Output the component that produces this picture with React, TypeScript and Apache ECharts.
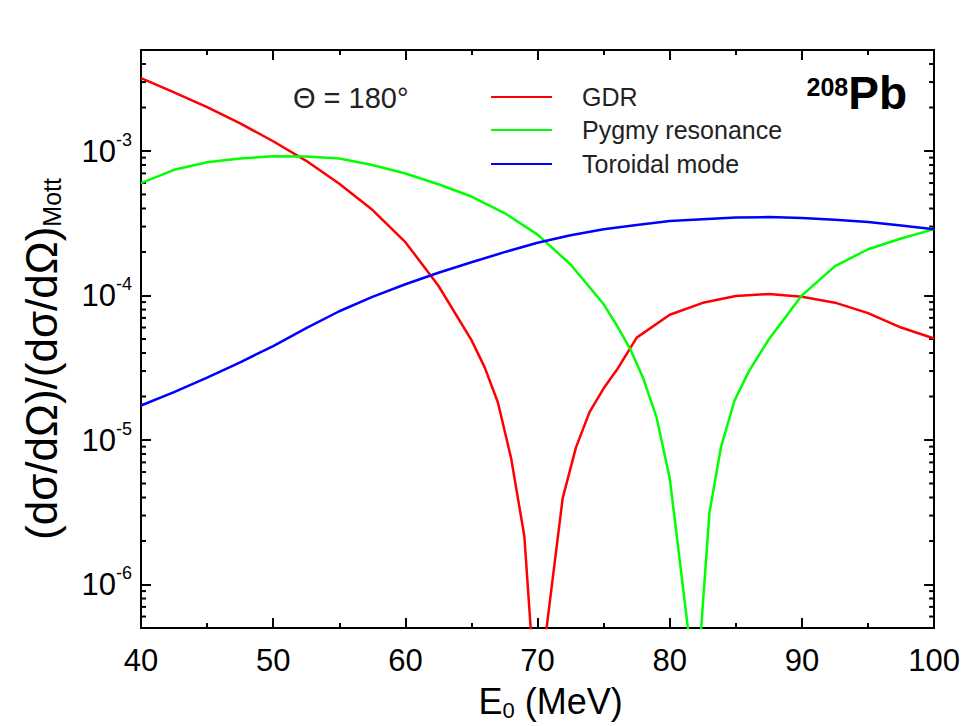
import React, { useEffect, useRef } from 'react';
import * as echarts from 'echarts';

const FONT = '"Liberation Sans", Arial, Helvetica, sans-serif';

// GDR (red)
const gdrEnergy = [40.0, 42.5, 45.0, 47.5, 50.0, 52.5, 55.0, 57.5, 60.0, 62.5, 65.0, 66.0, 67.0, 68.0, 69.0, 69.55, 70.55, 71.9, 72.9, 73.93, 75.0, 76.0, 77.5, 80.0, 82.5, 85.0, 87.5, 90.0, 92.5, 95.0, 97.5, 100.0];
const gdrValues = [3.19e-3, 2.548e-3, 2.011e-3, 1.552e-3, 1.168e-3, 8.55e-4, 5.93e-4, 3.92e-4, 2.34e-4, 1.168e-4, 4.91e-5, 3.18e-5, 1.817e-5, 7.47e-6, 2.16e-6, 4e-7, 4e-7, 3.96e-6, 8.86e-6, 1.559e-5, 2.28e-5, 3.06e-5, 5.11e-5, 7.36e-5, 8.9e-5, 9.91e-5, 1.024e-4, 9.81e-5, 8.92e-5, 7.55e-5, 6.0e-5, 5.04e-5];

// Pygmy resonance (green)
const pygmyEnergy = [40.0, 42.5, 45.0, 47.5, 50.0, 52.5, 55.0, 57.5, 60.0, 62.5, 65.0, 67.5, 70.0, 72.5, 75.0, 76.0, 77.0, 78.0, 79.0, 80.0, 80.5, 81.5, 82.3, 83.0, 83.88, 84.9, 86.0, 87.5, 90.0, 92.5, 95.0, 97.5, 100.0];
const pygmyValues = [6.0e-4, 7.41e-4, 8.35e-4, 8.88e-4, 9.2e-4, 9.17e-4, 8.87e-4, 8.01e-4, 6.98e-4, 5.89e-4, 4.84e-4, 3.72e-4, 2.64e-4, 1.64e-4, 8.69e-5, 6.2e-5, 4.28e-5, 2.66e-5, 1.436e-5, 5.41e-6, 2.28e-6, 4e-7, 4e-7, 3.13e-6, 8.97e-6, 1.876e-5, 3.01e-5, 4.98e-5, 1.003e-4, 1.596e-4, 2.09e-4, 2.48e-4, 2.88e-4];

// Toroidal mode (blue)
const toroidalEnergy = [40.0, 42.5, 45.0, 47.5, 50.0, 52.5, 55.0, 57.5, 60.0, 62.5, 65.0, 67.5, 70.0, 72.5, 75.0, 77.5, 80.0, 82.5, 85.0, 87.5, 90.0, 92.5, 95.0, 97.5, 100.0];
const toroidalValues = [1.733e-5, 2.146e-5, 2.7e-5, 3.45e-5, 4.47e-5, 5.94e-5, 7.78e-5, 9.78e-5, 1.197e-4, 1.436e-4, 1.698e-4, 1.995e-4, 2.318e-4, 2.615e-4, 2.87e-4, 3.08e-4, 3.28e-4, 3.37e-4, 3.46e-4, 3.49e-4, 3.44e-4, 3.35e-4, 3.22e-4, 3.05e-4, 2.87e-4];

const seriesNames = ['GDR', 'Pygmy resonance', 'Toroidal mode'];
const seriesColors = ['#ff0000', '#00ff00', '#0000ff'];

const xMin = 40;
const xMax = 100;
const xInterval = 10;
const yMin = 5e-7;
const yMax = 5e-3;

// logarithmic minor ticks (2..9 x 10^n) inside the y range
const minorYTicks: number[] = [];
for (let e = -7; e <= -3; e++) {
  for (let m = 2; m <= 9; m++) {
    const v = m * Math.pow(10, e);
    if (v > yMin * 1.0001 && v < yMax * 0.9999) minorYTicks.push(v);
  }
}

const pair = (xs: number[], ys: number[]) => xs.map((x, i) => [x, ys[i]]);

const tickStyle = () => ({ show: true, inside: true, length: 10, lineStyle: { color: '#000', width: 2 } });
const minorTickStyle = () => ({ show: true, splitNumber: 2, length: 5, lineStyle: { color: '#000', width: 2 } });
const lineStyleAxis = () => ({ show: true, onZero: false, lineStyle: { color: '#000', width: 2 } });

export default function App() {
  const ref = useRef<HTMLDivElement>(null);
  useEffect(() => {
    if (!ref.current) return;
    const chart = echarts.init(ref.current, null, { renderer: 'svg' });
    const lineSeries = [
      pair(gdrEnergy, gdrValues),
      pair(pygmyEnergy, pygmyValues),
      pair(toroidalEnergy, toroidalValues),
    ].map((data, i) => ({
      name: seriesNames[i],
      type: 'line',
      data,
      showSymbol: true,
      symbol: 'circle',
      symbolSize: 1,
      smooth: false,
      lineStyle: { color: seriesColors[i], width: 2.5 },
      itemStyle: { color: seriesColors[i], opacity: 0 },
    }));

    // legend drawn as plain graphic elements (line sample + label)
    const legendRows = [97, 130, 164];
    const legendEls: any[] = [];
    seriesNames.forEach((name, i) => {
      legendEls.push({
        type: 'line',
        shape: { x1: 491, y1: legendRows[i], x2: 552, y2: legendRows[i] },
        style: { stroke: seriesColors[i], lineWidth: 2.2 },
      });
      legendEls.push({
        type: 'text',
        x: 582,
        y: legendRows[i],
        style: { text: name, fontSize: 25, fontFamily: FONT, fill: '#222', align: 'left', verticalAlign: 'middle' },
      });
    });

    chart.setOption({
      animation: false,
      textStyle: { fontFamily: FONT },
      grid: { left: 141, right: 28, top: 50, bottom: 94 },
      xAxis: [
        {
          type: 'value',
          min: xMin,
          max: xMax,
          interval: xInterval,
          position: 'bottom',
          axisLine: lineStyleAxis(),
          axisTick: tickStyle(),
          minorTick: minorTickStyle(),
          splitLine: { show: false },
          axisLabel: { show: true, fontSize: 31, color: '#000', margin: 17, fontFamily: FONT },
          name: '{a|E}{b|0}{a| (MeV)}',
          nameLocation: 'middle',
          nameGap: 53,
          nameTextStyle: {
            color: '#000',
            fontFamily: FONT,
            padding: [0, 0, 0, 26],
            rich: {
              a: { fontSize: 36, lineHeight: 40, color: '#000', fontFamily: FONT },
              b: { fontSize: 22, lineHeight: 22, verticalAlign: 'bottom', color: '#000', fontFamily: FONT },
            },
          },
        },
        {
          type: 'value',
          min: xMin,
          max: xMax,
          interval: xInterval,
          position: 'top',
          axisLine: lineStyleAxis(),
          axisTick: tickStyle(),
          minorTick: minorTickStyle(),
          splitLine: { show: false },
          axisLabel: { show: false },
        },
      ],
      yAxis: [
        {
          type: 'log',
          logBase: 10,
          min: yMin,
          max: yMax,
          position: 'left',
          axisLine: lineStyleAxis(),
          axisTick: tickStyle(),
          splitLine: { show: false },
          axisLabel: {
            show: true,
            margin: 9,
            color: '#000',
            fontFamily: FONT,
            formatter: (v: number) => {
              const e = Math.log10(v);
              const r = Math.round(e);
              if (Math.abs(e - r) > 1e-6) return '';
              return '{m|10}{s|' + r + '}';
            },
            rich: {
              m: { fontSize: 31, lineHeight: 41, color: '#000', fontFamily: FONT },
              s: { fontSize: 18, lineHeight: 18, verticalAlign: 'top', color: '#000', fontFamily: FONT },
            },
          },
          name: '{a|(dσ/dΩ)/(dσ/dΩ)}{b|Mott}',
          nameLocation: 'middle',
          nameGap: 77,
          nameTextStyle: {
            color: '#000',
            fontFamily: FONT,
            padding: [0, 40, 0, 0],
            rich: {
              a: { fontSize: 44, lineHeight: 46, color: '#000', fontFamily: FONT },
              b: { fontSize: 25, lineHeight: 25, verticalAlign: 'bottom', color: '#000', fontFamily: FONT },
            },
          },
        },
        {
          type: 'log',
          logBase: 10,
          min: yMin,
          max: yMax,
          position: 'right',
          axisLine: lineStyleAxis(),
          axisTick: tickStyle(),
          splitLine: { show: false },
          axisLabel: { show: false },
        },
      ],
      series: [
        ...lineSeries,
        {
          type: 'custom',
          data: minorYTicks.map((v) => [xMin, v]),
          renderItem: (params: any, api: any) => {
            const cs = params.coordSys;
            const y = api.coord([xMin, api.value(1)])[1];
            return {
              type: 'group',
              children: [
                { type: 'rect', shape: { x: cs.x, y: y - 1, width: 5, height: 2 }, style: { fill: '#000' } },
                { type: 'rect', shape: { x: cs.x + cs.width - 5, y: y - 1, width: 5, height: 2 }, style: { fill: '#000' } },
              ],
            };
          },
        },
      ],
      graphic: [
        ...legendEls,
        {
          type: 'text',
          x: 293,
          y: 98,
          style: {
            text: 'Θ = 180°',
            fontSize: 29,
            fontFamily: FONT,
            fill: '#222',
            align: 'left',
            verticalAlign: 'middle',
          },
        },
        {
          type: 'text',
          x: 907,
          y: 93,
          style: {
            text: '{s|208}{p|Pb}',
            fontFamily: FONT,
            align: 'right',
            verticalAlign: 'middle',
            rich: {
              s: { fontSize: 25, lineHeight: 25, fontWeight: 'bold', verticalAlign: 'top', fill: '#000', fontFamily: FONT },
              p: { fontSize: 46, lineHeight: 38, fontWeight: 'bold', fill: '#000', fontFamily: FONT },
            },
          },
        },
      ],
    });
    return () => chart.dispose();
  }, []);
  return <div ref={ref} style={{ position: 'absolute', left: 0, top: 0, width: 963, height: 726 }} />;
}
